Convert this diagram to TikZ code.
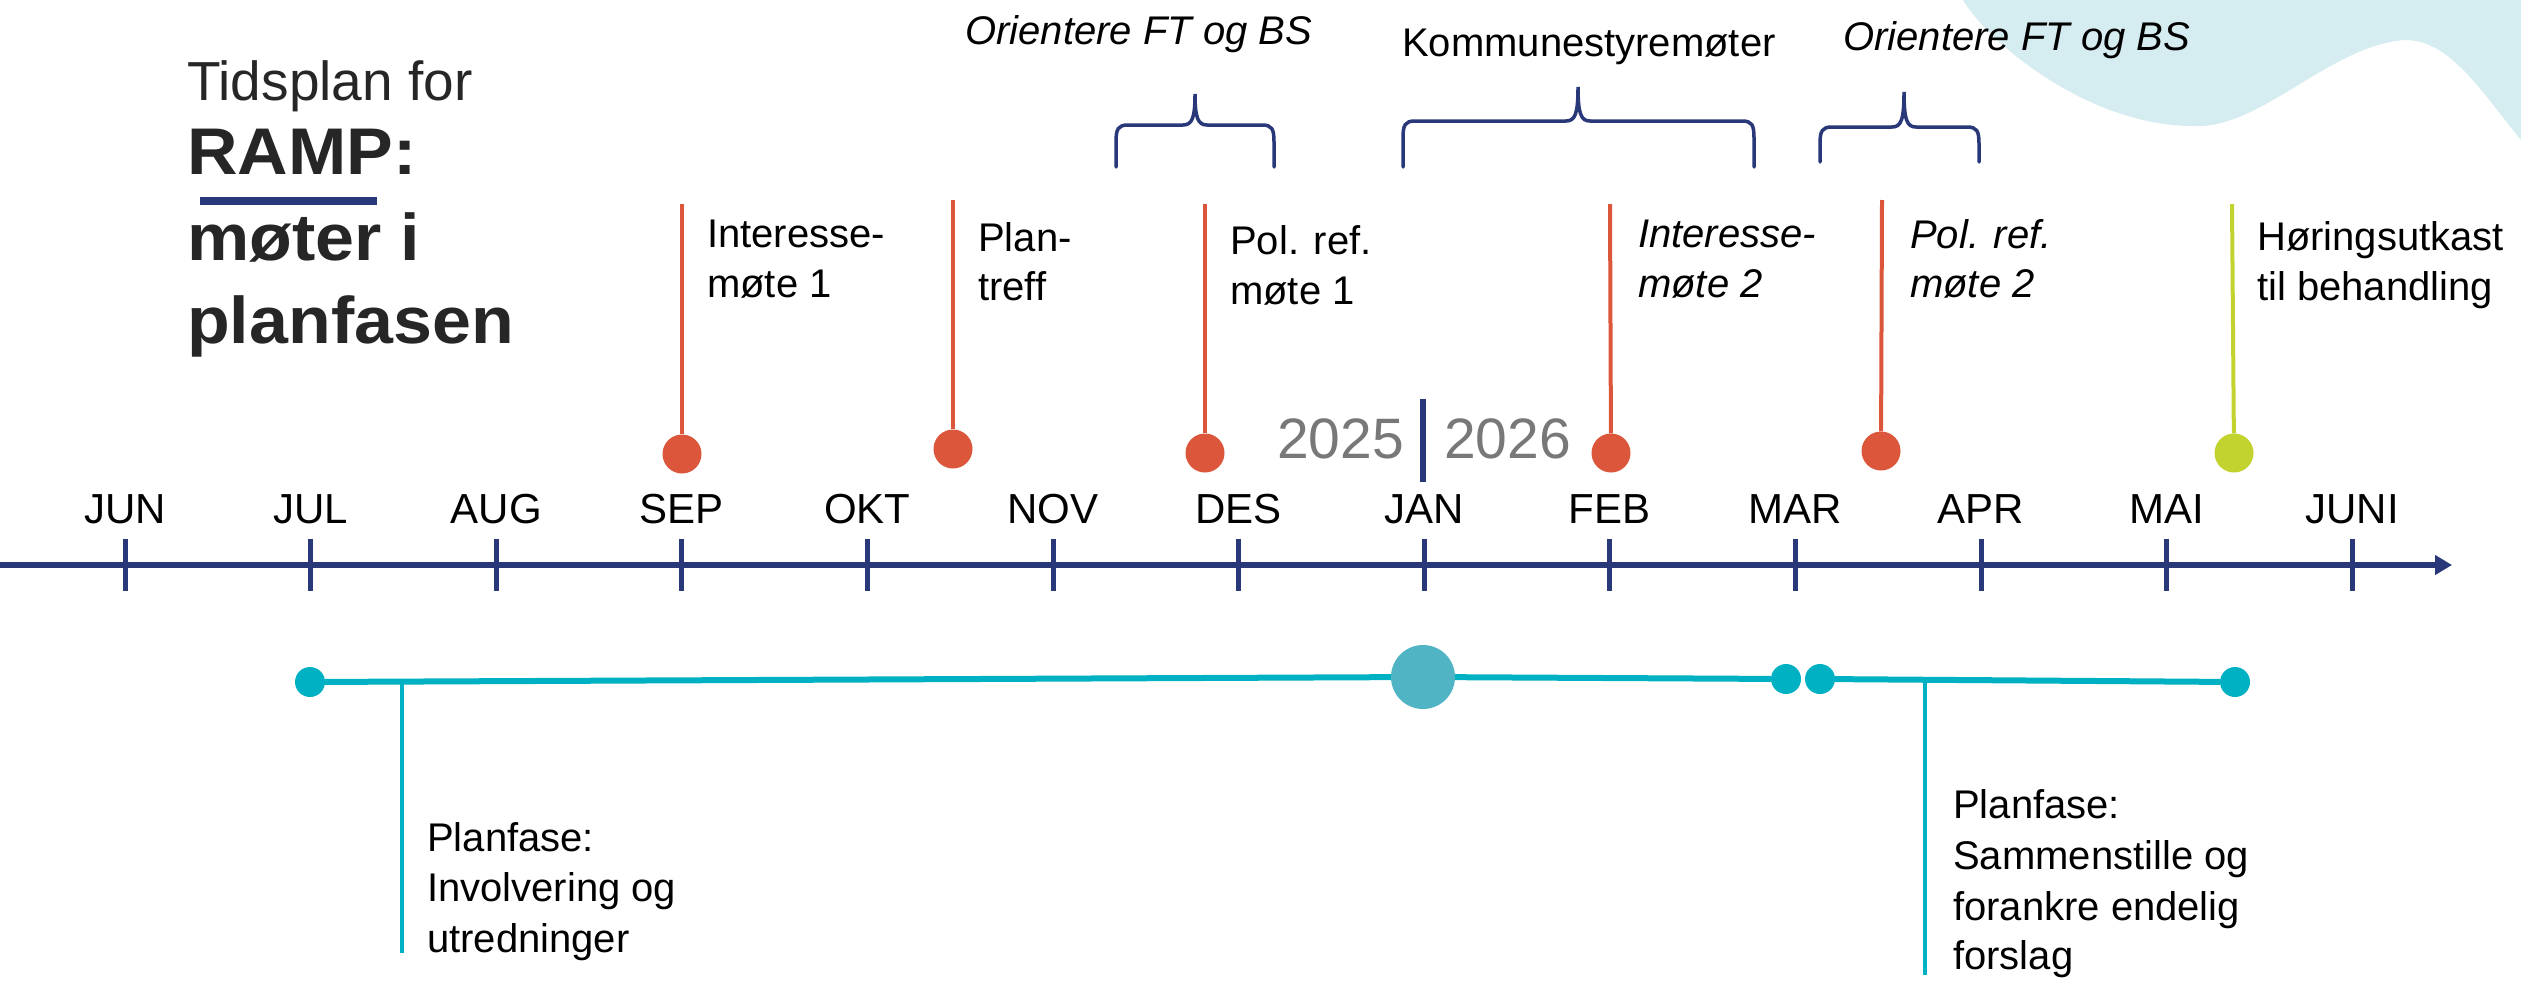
\documentclass[tikz,border=0pt]{standalone}
\usepackage{fontspec}
\setmainfont{Liberation Sans}
\newfontfamily\titlefont[FakeStretch=1.06]{Liberation Sans}
\usetikzlibrary{arrows.meta}
\definecolor{navy}{RGB}{40,56,120}
\definecolor{evred}{RGB}{219,86,58}
\definecolor{evgreen}{RGB}{194,211,48}
\definecolor{tealc}{RGB}{0,177,196}
\definecolor{bigdotc}{RGB}{80,180,196}
\definecolor{blobc}{RGB}{213,236,240}
\definecolor{titlegray}{RGB}{38,38,38}
\definecolor{yeargray}{RGB}{120,120,120}
\begin{document}
\begin{tikzpicture}[x=1pt,y=-1pt,
  lbl/.style={anchor=base west, inner sep=0pt, font=\fontsize{40}{48}\selectfont},
  ilbl/.style={lbl, font=\fontsize{40}{48}\selectfont\itshape},
  monthlbl/.style={anchor=base, inner sep=0pt, font=\fontsize{42}{48}\selectfont},
  yearlbl/.style={inner sep=0pt, text=yeargray, font=\fontsize{57}{60}\selectfont},
  titlereg/.style={anchor=base west, inner sep=0pt, text=titlegray, font=\fontsize{55}{60}\selectfont},
  titlebold/.style={anchor=base west, inner sep=0pt, text=titlegray, font=\titlefont\fontsize{66}{70}\selectfont\bfseries},
  tickline/.style={navy, line width=5pt},
  stemline/.style={line width=4pt},
  evdot/.style={circle, inner sep=0pt, minimum size=39pt},
  tdot/.style={circle, inner sep=0pt, minimum size=30pt, fill=tealc},
  tline/.style={tealc, line width=6pt},
  dropline/.style={tealc, line width=4pt},
  bracestyle/.style={navy, line width=3.5pt, line cap=round}
]
\useasboundingbox (0,0) rectangle (2521,980);
\fill[white] (0,0) rectangle (2521,980);

% background blob
\fill[blobc] (1963,0) .. controls (1990,45) and (2090,126) .. (2193,126)
  .. controls (2260,130) and (2330,45) .. (2405,40)
  .. controls (2450,40) and (2480,90) .. (2521,140) -- (2521,0) -- cycle;

% title
\node[titlereg] (tt1) at (187,100) {Tidsplan for};
\node[titlebold] (tt2) at (187,174) {RAMP:};
\node[titlebold] (tt3) at (187,260) {møter i};
\node[titlebold] (tt4) at (187,343) {planfasen};
\coordinate (ul1) at (200,201);
\coordinate (ul2) at (377,201);
\draw[navy, line width=8pt] (ul1) -- (ul2);

% braces
\draw[bracestyle] (1116,167) -- (1116,142) .. controls (1116,129) and (1118,125) .. (1128,125)
  -- (1183,125) .. controls (1192,125) and (1195,118) .. (1195,94)
  .. controls (1195,118) and (1198,125) .. (1207,125)
  -- (1262,125) .. controls (1272,125) and (1274,129) .. (1274,142) -- (1274,167);
\draw[bracestyle] (1403,167) -- (1403,138) .. controls (1403,125) and (1405,121) .. (1415,121)
  -- (1566,121) .. controls (1575,121) and (1578,114) .. (1578,87)
  .. controls (1578,114) and (1581,121) .. (1590,121)
  -- (1742,121) .. controls (1752,121) and (1754,125) .. (1754,138) -- (1754,167);
\draw[bracestyle] (1820,162) -- (1820,144) .. controls (1820,131) and (1822,127) .. (1832,127)
  -- (1892,127) .. controls (1901,127) and (1904,120) .. (1904,92)
  .. controls (1904,120) and (1907,127) .. (1916,127)
  -- (1967,127) .. controls (1977,127) and (1979,131) .. (1979,144) -- (1979,162);

\node[ilbl] (or1) at (965,44) {Orientere FT og BS};
\node[lbl] (kom) at (1402,56) {Kommunestyremøter};
\node[ilbl] (or2) at (1843,50) {Orientere FT og BS};

% events
\node[evdot, fill=evred] (d1) at (682,454) {};
\coordinate (s1) at (682,204);
\draw[stemline, evred] (s1) -- (d1);
\node[lbl] (l1a) at (707,247) {Interesse-};
\node[lbl] (l1b) at (707,297) {møte 1};

\node[evdot, fill=evred] (d2) at (953,449) {};
\coordinate (s2) at (953,200);
\draw[stemline, evred] (s2) -- (d2);
\node[lbl] (l2a) at (978,251) {Plan-};
\node[lbl] (l2b) at (978,300) {treff};

\node[evdot, fill=evred] (d3) at (1205,453) {};
\coordinate (s3) at (1205,204);
\draw[stemline, evred] (s3) -- (d3);
\node[lbl] (l3a) at (1230,254) {Pol. ref.};
\node[lbl] (l3b) at (1230,304) {møte 1};

\node[evdot, fill=evred] (d4) at (1611,453) {};
\coordinate (s4) at (1610,204);
\draw[stemline, evred] (s4) -- (d4);
\node[ilbl] (l4a) at (1638,247) {Interesse-};
\node[ilbl] (l4b) at (1638,297) {møte 2};

\node[evdot, fill=evred] (d5) at (1881,451) {};
\coordinate (s5) at (1882,200);
\draw[stemline, evred] (s5) -- (d5);
\node[ilbl] (l5a) at (1910,248) {Pol. ref.};
\node[ilbl] (l5b) at (1910,297) {møte 2};

\node[evdot, fill=evgreen] (d6) at (2234,453) {};
\coordinate (s6) at (2232,204);
\draw[stemline, evgreen] (s6) -- (d6);
\node[lbl] (l6a) at (2257,250) {Høringsutkast};
\node[lbl] (l6b) at (2257,300) {til behandling};

% year
\node[yearlbl, anchor=base east] (y25) at (1404,458) {2025};
\node[yearlbl, anchor=base west] (y26) at (1444,458) {2026};
\coordinate (yb1) at (1423,399);
\coordinate (yb2) at (1423,482);
\draw[navy, line width=6pt] (yb1) -- (yb2);

% axis
\coordinate (axs) at (0,565);
\coordinate (axe) at (2452,565);
\draw[navy, line width=6pt, -{Triangle[length=17pt,width=19pt]}] (axs) -- (axe);
\foreach \m [count=\i from 0] in {JUN,JUL,AUG,SEP,OKT,NOV,DES,JAN,FEB,MAR,APR,MAI,JUNI} {
  \node[monthlbl] (m\i) at ({125+185.6*\i},523) {\m};
  \draw[tickline] ({125+185.6*\i},539) -- ({125+185.6*\i},591);
}

% phase line
\node[tdot] (p0) at (310,682) {};
\node[circle, inner sep=0pt, minimum size=64pt, fill=bigdotc] (p1) at (1423,677) {};
\node[tdot] (p2) at (1786,679) {};
\node[tdot] (p3) at (1820,679) {};
\node[tdot] (p4) at (2235,682) {};
\draw[tline] (p0) -- (p1);
\draw[tline] (p1) -- (p2);
\draw[tline] (p3) -- (p4);

\coordinate (v1t) at (402,682);
\coordinate (v1b) at (402,953);
\draw[dropline] (v1t) -- (v1b);
\node[lbl] (b1a) at (427,851) {Planfase:};
\node[lbl] (b1b) at (427,901) {Involvering og};
\node[lbl] (b1c) at (427,952) {utredninger};

\coordinate (v2t) at (1925,681);
\coordinate (v2b) at (1925,975);
\draw[dropline] (v2t) -- (v2b);
\node[lbl] (b2a) at (1953,818) {Planfase:};
\node[lbl] (b2b) at (1953,869) {Sammenstille og};
\node[lbl] (b2c) at (1953,920) {forankre endelig};
\node[lbl] (b2d) at (1953,969) {forslag};
\end{tikzpicture}
\end{document}
